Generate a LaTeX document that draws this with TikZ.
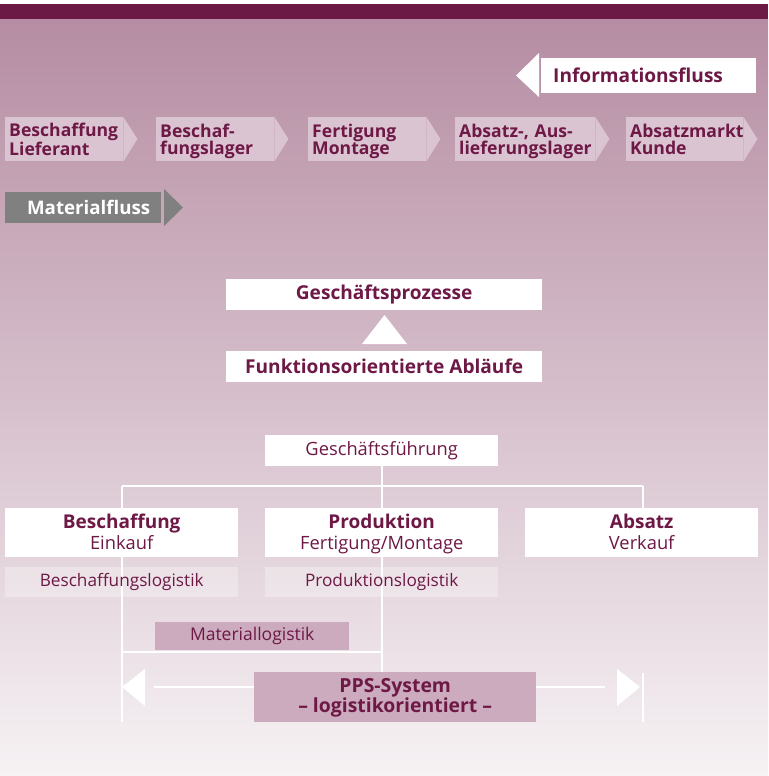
\documentclass[tikz,border=0pt]{standalone}
\usepackage{fontspec}
\setmainfont{Open Sans}
\usetikzlibrary{positioning}
\definecolor{bandcol}{RGB}{107,26,69}
\definecolor{textcol}{RGB}{110,24,70}
\definecolor{bgtop}{RGB}{182,141,163}
\definecolor{bgbot}{RGB}{246,242,244}
\definecolor{stepfill}{RGB}{219,196,209}
\definecolor{logfill}{RGB}{203,171,189}
\definecolor{matgray}{RGB}{128,128,128}
\pgfdeclarelayer{paper}
\pgfdeclarelayer{lines}
\pgfsetlayers{paper,lines,main}
% two lines with a fixed first height and last depth
\newcommand{\twolines}[4]{\rule{0pt}{#3}#1\\#2\rule[-#4]{0pt}{#4}}
\newcommand{\orghead}[1]{{\bfseries\fontsize{19}{21}\selectfont #1}}
\tikzstyle{flowstep}=[fill=stepfill, text=textcol, anchor=north west, align=left, inner xsep=4pt, inner ysep=0pt, minimum height=44pt, font=\bfseries\fontsize{17.6}{17}\selectfont]
\tikzstyle{whitebox}=[fill=white, text=textcol, inner sep=0pt, font=\bfseries\fontsize{19.1}{20}\selectfont]
\tikzstyle{orgbox}=[fill=white, text=textcol, anchor=north west, align=center, inner sep=0pt, minimum height=49pt, font=\fontsize{18.3}{21}\selectfont]
\tikzstyle{logbox}=[fill=white, fill opacity=0.3, text opacity=1, text=textcol, anchor=north west, inner sep=0pt, minimum height=30pt, font=\fontsize{17.2}{20}\selectfont]
\tikzstyle{orgline}=[white, line width=1.6pt]

\begin{document}
\begin{tikzpicture}[x=1pt, y=-1pt]
  \useasboundingbox (0,0) rectangle (768,776);
  \begin{pgfonlayer}{paper}
    \fill[white] (0,0) rectangle (768,4);
    \fill[bandcol] (0,4) rectangle (768,20);
    \shade[top color=bgtop, bottom color=bgbot] (0,20) rectangle (768,776);
  \end{pgfonlayer}

  % flow of information
  \node[whitebox, anchor=north west, minimum width=215pt, minimum height=35pt,
    text width=191pt, inner xsep=12pt, align=left] (info) at (541,58) {Informationsfluss};
  \fill[white] (539,53) -- (516,75.5) -- (539,97) -- cycle;

  % process chain
  \node[flowstep, text width=110pt] (lieferant) at (5,117) {\twolines{Beschaffung}{Lieferant}{18pt}{5pt}};
  \node[flowstep, text width=110pt] (lager1) at (156,117) {\twolines{Beschaf-}{fungslager}{18pt}{5pt}};
  \node[flowstep, text width=110pt] (fertigung) at (308,117) {\twolines{Fertigung}{Montage}{18pt}{5pt}};
  \node[flowstep, text width=132pt] (lager2) at (455,117) {\twolines{Absatz-, Aus-}{lieferungslager}{18pt}{5pt}};
  \node[flowstep, text width=109pt] (kunde) at (626,117) {\twolines{Absatzmarkt}{Kunde}{18pt}{5pt}};
  \foreach \n in {lieferant, lager1, fertigung, lager2, kunde}
    \fill[stepfill] (\n.north east) -- ++(14,22) -- (\n.south east) -- cycle;

  % flow of material
  \node[fill=matgray, text=white, anchor=north west, minimum width=156pt, minimum height=31pt,
    text width=134pt, inner xsep=11pt, inner ysep=0pt, align=right,
    font=\bfseries\fontsize{18.7}{20}\selectfont] (material) at (5,192) {Materialfluss};
  \fill[matgray] (164,189) -- (183,207.5) -- (164,226) -- cycle;

  % business processes
  \node[whitebox, anchor=north west, minimum width=316pt, minimum height=31pt] (prozesse) at (226,279) {Geschäftsprozesse};
  \node[whitebox, anchor=north west, minimum width=316pt, minimum height=31pt] (ablaeufe) at (226,351) {Funktionsorientierte Abläufe};
  \fill[white] (362,344) -- (384.5,315) -- (407,344) -- cycle;

  % organisation
  \node[orgbox, minimum width=233pt, minimum height=31pt] (leitung) at (265,435) {Geschäftsführung};
  \node[orgbox, minimum width=233pt] (beschaffung) at (5,508) {\twolines{\orghead{Beschaffung}}{Einkauf}{18pt}{6pt}};
  \node[orgbox, minimum width=233pt] (produktion) at (265,508) {\twolines{\orghead{Produktion}}{Fertigung/Montage}{18pt}{6pt}};
  \node[orgbox, minimum width=233pt] (absatz) at (525,508) {\twolines{\orghead{Absatz}}{Verkauf}{18pt}{6pt}};
  \node[logbox, minimum width=233pt] (beschlog) at (5,567) {Beschaffungslogistik};
  \node[logbox, minimum width=233pt] (prodlog) at (265,567) {Produktionslogistik};

  \node[fill=logfill, text=textcol, anchor=north west, inner sep=0pt, minimum width=194pt,
    minimum height=28pt, font=\fontsize{17.5}{20}\selectfont] (materiallog) at (155,622) {Materiallogistik};
  \node[fill=logfill, text=textcol, anchor=north west, inner sep=0pt, minimum width=282pt,
    minimum height=50pt, align=center, font=\bfseries\fontsize{19.4}{20}\selectfont] (pps) at (254,672)
    {\twolines{PPS-System}{– logistikorientiert –}{18pt}{8pt}};

  \coordinate (busL) at (122,486);
  \coordinate (busR) at (643,486);
  \coordinate (footL) at (122,722);
  \coordinate (footR) at (643,722);
  \coordinate (tickR) at (643,673);
  \coordinate (matL) at (122,652);
  \coordinate (arrL) at (154,687);
  \coordinate (arrR) at (605,687);

  \begin{pgfonlayer}{lines}
    \draw[orgline] (leitung.south) -- (leitung.south |- pps.north);
    \draw[orgline] (busL) -- (busR);
    \draw[orgline] (busL) -- (footL);
    \draw[orgline] (busR) -- (busR |- absatz.north);
    \draw[orgline] (matL) -- (matL -| leitung.south);
    \draw[orgline] (tickR) -- (footR);
    \draw[orgline] (arrL) -- (arrR);
  \end{pgfonlayer}
  \fill[white] (122,687) -- (145,669) -- (145,706) -- cycle;
  \fill[white] (617,669) -- (640,687) -- (617,706) -- cycle;
\end{tikzpicture}
\end{document}
